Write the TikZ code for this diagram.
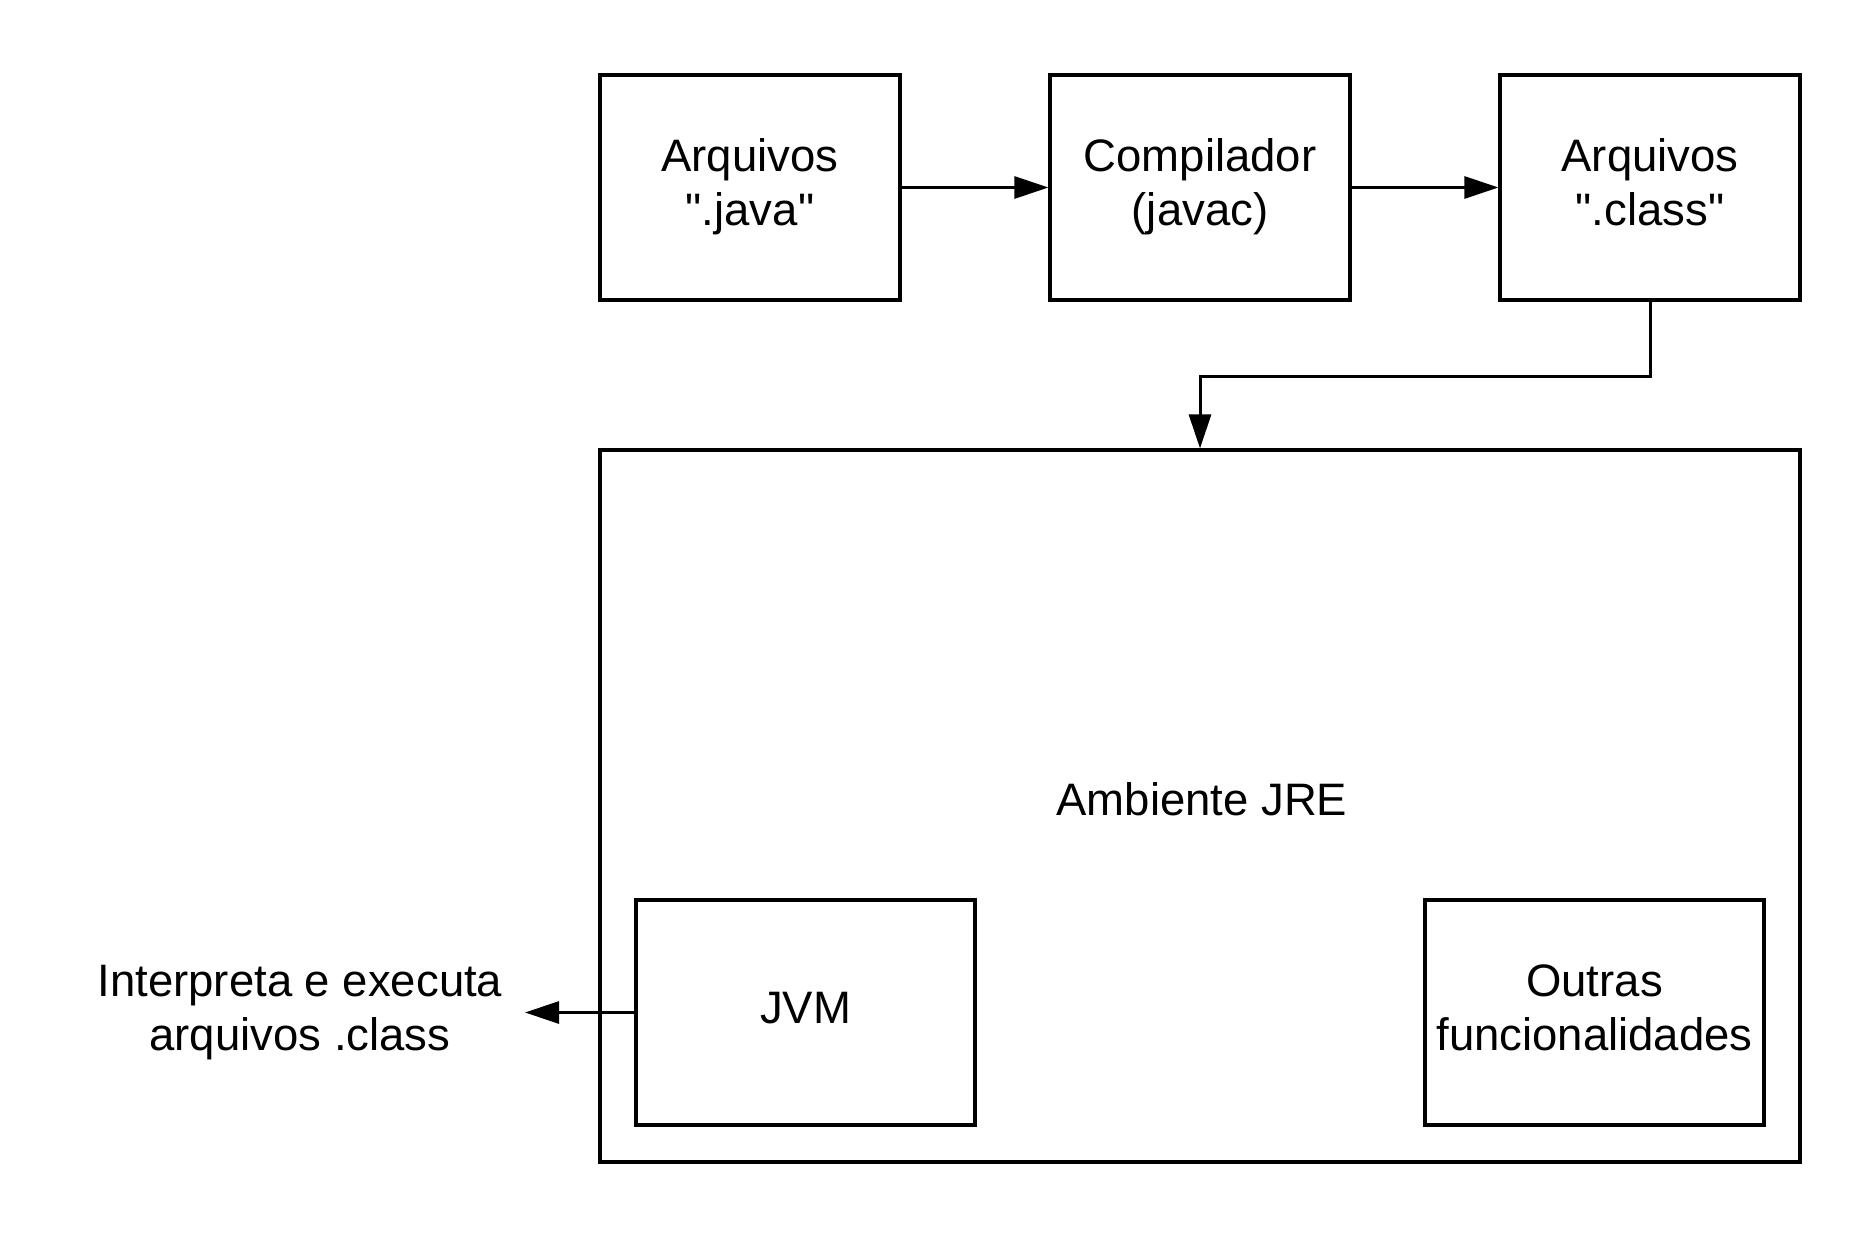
\documentclass[tikz,border=0pt]{standalone}
\usepackage{fontspec}
\setmainfont{Liberation Sans}[Ligatures=TeXOff]
\usetikzlibrary{arrows.meta}
\begin{document}
\begin{tikzpicture}[x=1pt,y=-1pt,
  txt/.style={font=\fontsize{45.5}{54}\selectfont, align=center, inner sep=0pt},
  box/.style={txt, draw, line width=3.2pt, minimum width=300pt, minimum height=225pt},
  inbox/.style={txt, draw, line width=3.2pt, minimum width=339pt, minimum height=225pt},
  conn/.style={line width=3pt, -{Triangle[length=34pt,width=22pt]}}]
\useasboundingbox (0,0) rectangle (1875,1238);
\node[box] (java) at (750,187.5) {\strut Arquivos\\\strut ".java"};
\node[box] (comp) at (1200,187.5) {\strut Compilador\\\strut (javac)};
\node[box] (cls) at (1650,187.5) {\strut Arquivos\\\strut ".class"};
\node[txt, draw, line width=3.2pt, minimum width=1200pt, minimum height=712pt] (jre) at (1200,806) {};
\node[txt] (jrelabel) at (1202,805) {\strut Ambiente JRE};
\node[inbox] (jvm) at (805.5,1012.5) {\strut JVM};
\node[inbox] (outras) at (1594.5,1012.5) {\strut Outras\\\strut funcionalidades};
\node[txt] (interp) at (300,1012.5) {\strut Interpreta e executa\\\strut arquivos .class};
\coordinate (tip) at (525,1012.5);
\draw[conn] (java) -- (comp);
\draw[conn] (comp) -- (cls);
\draw[conn] (cls.south) -- ++(0,75) -| (jre.north);
\draw[conn] (jvm.west) -- (tip);
\end{tikzpicture}
\end{document}
